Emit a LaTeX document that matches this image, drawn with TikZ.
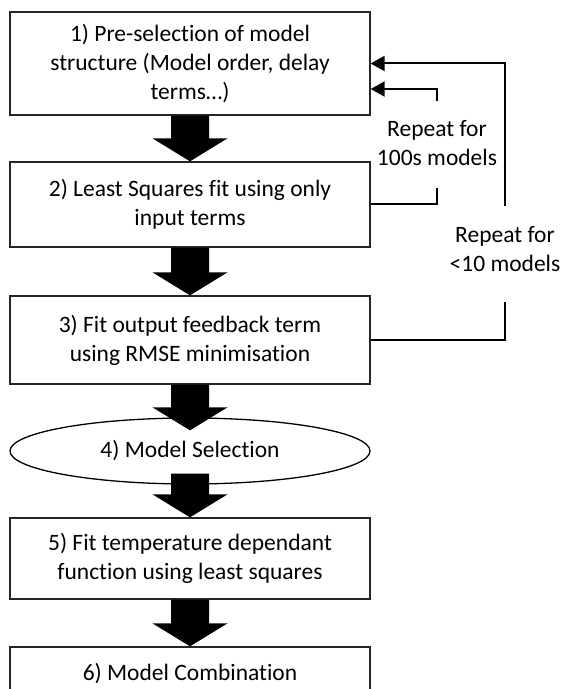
\documentclass[tikz,border=0pt]{standalone}
\usepackage{fontspec}
\setmainfont{Carlito}[Ligatures=NoCommon]
\usetikzlibrary{calc,arrows.meta,shapes.geometric}

% thick block arrow between two points (shaft, then triangular head)
\newcommand\blkarrow[2]{%
  \fill ($(#1)+(-19,0)$) -- ($(#2)+(-19,-23)$) -- ($(#2)+(-37.5,-23)$) -- (#2)
    -- ($(#2)+(37.5,-23)$) -- ($(#2)+(19,-23)$) -- ($(#1)+(19,0)$) -- cycle;}

\begin{document}
\begin{tikzpicture}[x=0.5pt,y=-0.5pt,
  txt/.style={font=\fontsize{11.75}{14.5}\selectfont,align=center,inner sep=0pt},
  stepbox/.style={txt,draw=black!85,line width=0.65pt,minimum width=180pt},
  oval/.style={txt,ellipse,draw=black,line width=0.65pt,minimum width=180pt,minimum height=33pt},
  fb/.style={line width=1pt},
  fbarrow/.style={fb,-{Triangle[length=7pt,width=7.5pt]}}]

\useasboundingbox (0,0) rectangle (563,689);
\clip (0,0) rectangle (563,689);

% process steps
\node[stepbox,minimum height=51.5pt] (b1) at (190,63.5)
  {1) Pre-selection of model\\structure (Model order, delay\\terms…)};
\node[stepbox,minimum height=42.5pt] (b2) at (190,204.5)
  {2) Least Squares fit using only\\input terms};
\node[stepbox,minimum height=44pt] (b3) at (190,340)
  {3) Fit output feedback term\\using RMSE minimisation};
\node[oval] (e4) at (190,451) {4) Model Selection};
\node[stepbox,minimum height=40.5pt] (b5) at (190,558.5)
  {5) Fit temperature dependant\\function using least squares};
\node[stepbox,minimum height=26.5pt] (b6) at (190,673.5) {6) Model Combination};

% block arrows between steps
\coordinate (e4in) at ($(e4.north)+(0,13)$);
\coordinate (e4out) at ($(e4.south)+(0,-11)$);
\blkarrow{b1.south}{b2.north}
\blkarrow{b2.south}{b3.north}
\blkarrow{b3.south}{e4in}
\blkarrow{e4out}{b5.north}
\blkarrow{b5.south}{b6.north}

% inner loop: repeat for 100s models
\node[txt] (l1) at (437,143) {Repeat for\\100s models};
\coordinate (r1b) at (437,188);
\coordinate (r1t) at (437,101);
\coordinate (b1in) at ($(b1.east)+(0,25.5)$);
\draw[fb] (b2.east) -| (r1b);
\draw[fbarrow] (r1t) |- (b1in);

% outer loop: repeat for <10 models
\node[txt] (l2) at (505,249) {Repeat for\\<10 models};
\coordinate (r2b) at (505,302);
\coordinate (r2t) at (505,206);
\draw[fb] (b3.east) -| (r2b);
\draw[fbarrow] (r2t) |- (b1.east);

\end{tikzpicture}
\end{document}
